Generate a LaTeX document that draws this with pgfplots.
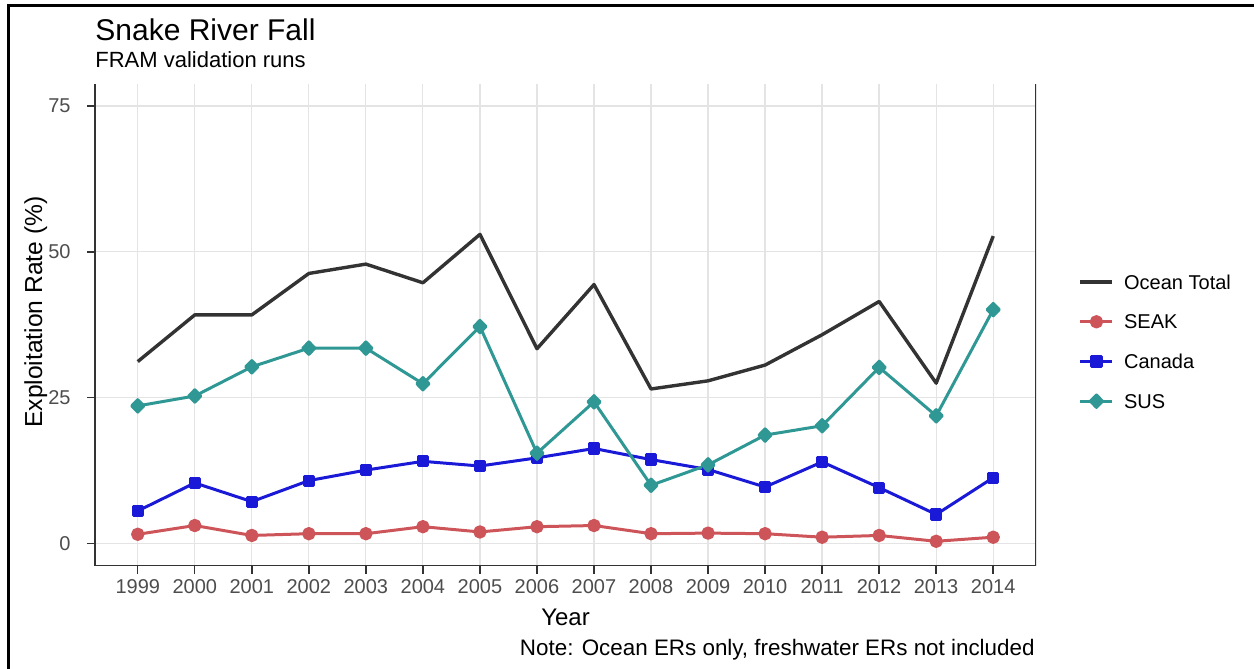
\documentclass[border=0pt]{standalone}
\usepackage{fontspec}
\setmainfont{Liberation Sans}
\usepackage{pgfplots}
\usepackage{pgfplotstable}
\pgfplotsset{compat=1.18}
\definecolor{oceanc}{RGB}{51,51,51}
\definecolor{seakc}{RGB}{205,85,90}
\definecolor{canc}{RGB}{25,25,215}
\definecolor{susc}{RGB}{48,152,148}
\definecolor{gridc}{RGB}{228,228,228}
\definecolor{tickc}{RGB}{77,77,77}
\definecolor{axc}{RGB}{51,51,51}

\pgfplotstableread{
year ocean seak canada sus
1999 31.2 1.6 5.6 23.6
2000 39.2 3.1 10.4 25.3
2001 39.2 1.4 7.2 30.3
2002 46.3 1.7 10.8 33.5
2003 47.9 1.7 12.6 33.5
2004 44.7 2.9 14.1 27.4
2005 53.0 2.0 13.3 37.2
2006 33.4 2.9 14.7 15.5
2007 44.4 3.1 16.3 24.3
2008 26.5 1.7 14.4 10.0
2009 27.9 1.8 12.7 13.5
2010 30.6 1.7 9.7 18.6
2011 35.8 1.1 14.0 20.2
2012 41.5 1.4 9.6 30.2
2013 27.5 0.4 5.0 21.9
2014 52.7 1.1 11.3 40.1
}\datatable

\begin{document}
\begin{tikzpicture}
\path[use as bounding box] (0,0) rectangle (627pt,-334.5pt);
\begin{axis}[
  at={(47.5pt,-282.75pt)}, anchor=south west,
  width=470.5pt, height=240.7pt, scale only axis,
  xmin=1998.25, xmax=2014.75, ymin=-3.75, ymax=78.75,
  xtick={1999,...,2014}, ytick={0,25,50,75},
  axis x line*=bottom, axis y line*=left,
  axis line style={axc, line width=0.7pt, -},
  grid=major, major grid style={gridc, line width=0.6pt},
  tick align=outside, major tick length=4pt,
  tick style={axc, line width=0.7pt},
  /pgf/number format/assume math mode=true,
  /pgf/number format/1000 sep={},
  ticklabel style={font=\fontsize{10}{12}\selectfont, text=tickc},
  xticklabel style={inner sep=0pt, anchor=north, yshift=-2.75pt},
  yticklabel style={inner sep=0pt, anchor=east, xshift=-8pt},
  legend style={at={(1.045,0.6045)}, anchor=north west, draw=none, fill=none,
    font=\fontsize{10}{12}\selectfont, inner sep=0pt, row sep=12.65pt,
    nodes={inner sep=0pt, text height=7.2pt, text depth=0pt},
    /tikz/every odd column/.append style={column sep=5pt}},
  legend cell align=left,
  legend image code/.code={\draw[mark repeat=2,mark phase=2,#1] plot coordinates {(0pt,0pt) (8pt,0pt) (16pt,0pt)};},
  line join=round,
]
\addplot[oceanc, line width=1.7pt, no markers] table[x=year,y=ocean] {\datatable};
\addlegendentry{Ocean Total}
\addplot[seakc, line width=1.5pt, mark=*, mark size=2.6pt] table[x=year,y=seak] {\datatable};
\addlegendentry{SEAK}
\addplot[canc, line width=1.5pt, mark=square*, mark size=2.3pt] table[x=year,y=canada] {\datatable};
\addlegendentry{Canada}
\addplot[susc, line width=1.5pt, mark=diamond*, mark size=3.1pt, mark options={xscale=1.3}] table[x=year,y=sus] {\datatable};
\addlegendentry{SUS}
\draw[axc, line width=0.7pt] (rel axis cs:1,0) -- (rel axis cs:1,1);
\end{axis}
\node[anchor=base west, inner sep=0pt, font=\fontsize{15}{18}\selectfont] at (47.5pt,-20pt) {Snake River Fall};
\node[anchor=base west, inner sep=0pt, font=\fontsize{11}{13}\selectfont] at (47.5pt,-34pt) {FRAM validation runs};
\node[anchor=base, inner sep=0pt, font=\fontsize{12}{14}\selectfont] at (282.75pt,-312.5pt) {Year};
\node[anchor=base, inner sep=0pt, rotate=90, font=\fontsize{12.3}{14}\selectfont] at (21pt,-156pt) {Exploitation Rate (\%)};
\node[anchor=base east, inner sep=0pt, font=\fontsize{11.2}{13}\selectfont] at (517.5pt,-327.5pt) {Note: Ocean ERs only, freshwater ERs not included};
\draw[line width=1.5pt] (4.25pt,-334.5pt) -- (4.25pt,-2.5pt) -- (627pt,-2.5pt);
\end{tikzpicture}
\end{document}
